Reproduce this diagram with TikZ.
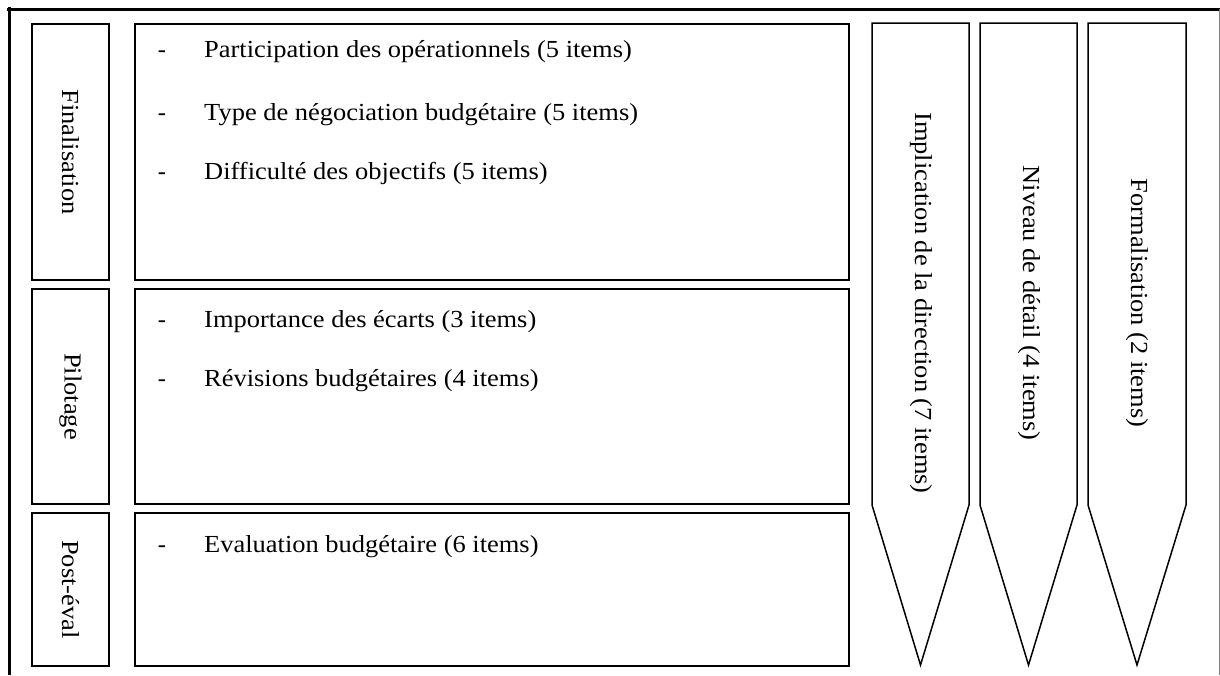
\documentclass[tikz,border=0pt]{standalone}
\usepackage{fontspec}
\setmainfont{Liberation Serif}
\newcommand\widetxt[1]{\scalebox{1.08}[1]{#1}}
\begin{document}
\begin{tikzpicture}[x=1pt,y=-1pt,
  box/.style={draw,line width=1.5pt,inner sep=0pt},
  lbl/.style={font=\fontsize{24.5}{30}\selectfont,inner sep=0pt},
  vlbl/.style={lbl,rotate=-90},
  item/.style={lbl,anchor=base west},
  dashmark/.style={lbl,anchor=base}]
\useasboundingbox (0,0) rectangle (1220,675);
% frame
\draw[line width=3pt] (7,9) -- (1220,9);
\draw[line width=3pt] (9,7) -- (9,675);
\draw[gray,line width=1pt] (1219,9) -- (1219,675);
% left boxes
\node[box,minimum width=77pt,minimum height=256pt] (lf) at (70.5,152) {};
\node[box,minimum width=77pt,minimum height=215pt] (lp) at (70.5,396.5) {};
\node[box,minimum width=77pt,minimum height=153pt] (le) at (70.5,589.5) {};
\node[vlbl] (tf) at (lf.center) {\widetxt{Finalisation}};
\node[vlbl] (tp) at (lp.center) {\widetxt{Pilotage}};
\node[vlbl] (te) at (le.center) {\widetxt{Post-éval}};
% middle boxes
\node[box,minimum width=714pt,minimum height=256pt] (mf) at (492,152) {};
\node[box,minimum width=714pt,minimum height=215pt] (mp) at (492,396.5) {};
\node[box,minimum width=714pt,minimum height=153pt] (me) at (492,589.5) {};
% items
\node[dashmark] (d1) at (162,57) {-};
\node[item] (i1) at (204,57) {\widetxt{Participation des opérationnels (5 items)}};
\node[dashmark] (d2) at (162,120) {-};
\node[item] (i2) at (204,120) {\widetxt{Type de négociation budgétaire (5 items)}};
\node[dashmark] (d3) at (162,179) {-};
\node[item] (i3) at (204,179) {\widetxt{Difficulté des objectifs (5 items)}};
\node[dashmark] (d4) at (162,327) {-};
\node[item] (i4) at (204,327) {\widetxt{Importance des écarts (3 items)}};
\node[dashmark] (d5) at (162,386) {-};
\node[item] (i5) at (204,386) {\widetxt{Révisions budgétaires (4 items)}};
\node[dashmark] (d6) at (162,552) {-};
\node[item] (i6) at (204,552) {\widetxt{Evaluation budgétaire (6 items)}};
% arrows
\draw[line width=1.5pt,line join=miter] (872,23) -- (969,23) -- (969,505) -- (920.5,665) -- (872,505) -- cycle;
\draw[line width=1.5pt,line join=miter] (980,23) -- (1077,23) -- (1077,505) -- (1028.5,665) -- (980,505) -- cycle;
\draw[line width=1.5pt,line join=miter] (1088,23) -- (1186,23) -- (1186,505) -- (1137,665) -- (1088,505) -- cycle;
\node[vlbl] (a1) at (921,303) {\widetxt{Implication de la direction (7 items)}};
\node[vlbl] (a2) at (1029,303) {\widetxt{Niveau de détail (4 items)}};
\node[vlbl] (a3) at (1137,303) {\widetxt{Formalisation (2 items)}};
\end{tikzpicture}
\end{document}
